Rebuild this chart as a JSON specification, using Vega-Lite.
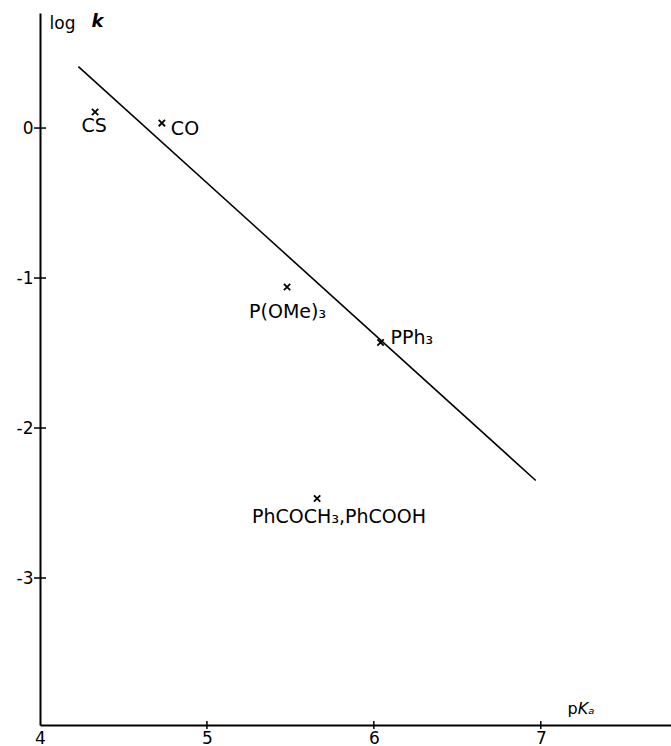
{
  "$schema": "https://vega.github.io/schema/vega-lite/v6.json",
  "width": 631,
  "height": 712,
  "autosize": {"type": "none"},
  "padding": {"left": 40, "top": 13, "right": 0, "bottom": 21},
  "background": "white",
  "config": {
    "view": {"stroke": null},
    "font": "DejaVu Sans",
    "axis": {"grid": false, "ticks": false, "domainColor": "black", "domainWidth": 2, "labelColor": "black", "labelFont": "DejaVu Sans", "labelFontSize": 17, "title": null}
  },
  "datasets": {
    "pts": [
      {"pKa": 4.33, "logk": 0.107, "name": "CS"},
      {"pKa": 4.73, "logk": 0.033, "name": "CO"},
      {"pKa": 5.48, "logk": -1.06, "name": "P(OMe)₃"},
      {"pKa": 6.04, "logk": -1.43, "name": "PPh₃"},
      {"pKa": 5.66, "logk": -2.47, "name": "PhCOCH₃,PhCOOH"}
    ],
    "fit": [
      {"pKa": 4.23, "logk": 0.41},
      {"pKa": 6.97, "logk": -2.35}
    ],
    "xticks": [
      {"tx": 5, "ty": -3.98},
      {"tx": 6, "ty": -3.98},
      {"tx": 7, "ty": -3.98}
    ],
    "yticks": [
      {"tx": 4, "ty": 0},
      {"tx": 4, "ty": -1},
      {"tx": 4, "ty": -2},
      {"tx": 4, "ty": -3}
    ]
  },
  "layer": [
    {
      "data": {"name": "fit"},
      "mark": {"type": "line", "color": "black", "strokeWidth": 1.6},
      "encoding": {
        "x": {"field": "pKa", "type": "quantitative", "scale": {"domain": [4, 7.78], "nice": false, "zero": false},
          "axis": {"values": [4, 5, 6, 7], "format": "d", "labelPadding": 5, "labelFlush": false, "orient": "bottom"}},
        "y": {"field": "logk", "type": "quantitative", "scale": {"domain": [-3.98, 0.767], "nice": false, "zero": false},
          "axis": {"values": [0, -1, -2, -3], "labelExpr": "datum.value < 0 ? '-' + abs(datum.value) : '' + datum.value", "labelPadding": 7, "orient": "left"}}
      }
    },
    {
      "data": {"name": "xticks"},
      "mark": {"type": "tick", "orient": "vertical", "size": 8, "thickness": 1.5, "color": "black", "opacity": 1},
      "encoding": {
        "x": {"field": "tx", "type": "quantitative"},
        "y": {"field": "ty", "type": "quantitative"}
      }
    },
    {
      "data": {"name": "yticks"},
      "mark": {"type": "tick", "orient": "horizontal", "size": 12, "thickness": 1.5, "color": "black", "opacity": 1},
      "encoding": {
        "x": {"field": "tx", "type": "quantitative"},
        "y": {"field": "ty", "type": "quantitative"}
      }
    },
    {
      "data": {"name": "pts"},
      "mark": {"type": "point", "shape": "M-1,-1L1,1M-1,1L1,-1", "size": 40, "stroke": "black", "strokeWidth": 1.8, "filled": false, "opacity": 1},
      "encoding": {
        "x": {"field": "pKa", "type": "quantitative"},
        "y": {"field": "logk", "type": "quantitative"}
      }
    },
    {
      "data": {"name": "pts"},
      "transform": [{"filter": "datum.name == 'CS'"}],
      "mark": {"type": "text", "fontSize": 19, "dx": -1, "dy": 14, "align": "center", "baseline": "middle", "color": "black"},
      "encoding": {"x": {"field": "pKa", "type": "quantitative"}, "y": {"field": "logk", "type": "quantitative"}, "text": {"field": "name"}}
    },
    {
      "data": {"name": "pts"},
      "transform": [{"filter": "datum.name == 'CO'"}],
      "mark": {"type": "text", "fontSize": 19, "dx": 9, "dy": 6, "align": "left", "baseline": "middle", "color": "black"},
      "encoding": {"x": {"field": "pKa", "type": "quantitative"}, "y": {"field": "logk", "type": "quantitative"}, "text": {"field": "name"}}
    },
    {
      "data": {"name": "pts"},
      "transform": [{"filter": "datum.name == 'P(OMe)₃'"}],
      "mark": {"type": "text", "fontSize": 19, "dx": -38, "dy": 25, "align": "left", "baseline": "middle", "color": "black"},
      "encoding": {"x": {"field": "pKa", "type": "quantitative"}, "y": {"field": "logk", "type": "quantitative"}, "text": {"field": "name"}}
    },
    {
      "data": {"name": "pts"},
      "transform": [{"filter": "datum.name == 'PPh₃'"}],
      "mark": {"type": "text", "fontSize": 19, "dx": 10, "dy": -5, "align": "left", "baseline": "middle", "color": "black"},
      "encoding": {"x": {"field": "pKa", "type": "quantitative"}, "y": {"field": "logk", "type": "quantitative"}, "text": {"field": "name"}}
    },
    {
      "data": {"name": "pts"},
      "transform": [{"filter": "datum.name == 'PhCOCH₃,PhCOOH'"}],
      "mark": {"type": "text", "fontSize": 19, "dx": -65, "dy": 18, "align": "left", "baseline": "middle", "color": "black"},
      "encoding": {"x": {"field": "pKa", "type": "quantitative"}, "y": {"field": "logk", "type": "quantitative"}, "text": {"field": "name"}}
    },
    {
      "data": {"values": [{"pKa": 4.135, "logk": 0.693, "t": "log"}]},
      "mark": {"type": "text", "fontSize": 17, "align": "center", "baseline": "middle", "color": "black"},
      "encoding": {"x": {"field": "pKa", "type": "quantitative"}, "y": {"field": "logk", "type": "quantitative"}, "text": {"field": "t"}}
    },
    {
      "data": {"values": [{"pKa": 4.344, "logk": 0.707, "t": "k"}]},
      "mark": {"type": "text", "fontSize": 18, "fontStyle": "italic", "fontWeight": "bold", "align": "center", "baseline": "middle", "color": "black"},
      "encoding": {"x": {"field": "pKa", "type": "quantitative"}, "y": {"field": "logk", "type": "quantitative"}, "text": {"field": "t"}}
    },
    {
      "data": {"values": [{"pKa": 7.19, "logk": -3.87, "t": "p"}]},
      "mark": {"type": "text", "fontSize": 16, "align": "center", "baseline": "middle", "color": "black"},
      "encoding": {"x": {"field": "pKa", "type": "quantitative"}, "y": {"field": "logk", "type": "quantitative"}, "text": {"field": "t"}}
    },
    {
      "data": {"values": [{"pKa": 7.222, "logk": -3.87, "t": "Kₐ"}]},
      "mark": {"type": "text", "fontSize": 16, "fontStyle": "italic", "align": "left", "baseline": "middle", "color": "black"},
      "encoding": {"x": {"field": "pKa", "type": "quantitative"}, "y": {"field": "logk", "type": "quantitative"}, "text": {"field": "t"}}
    }
  ]
}
